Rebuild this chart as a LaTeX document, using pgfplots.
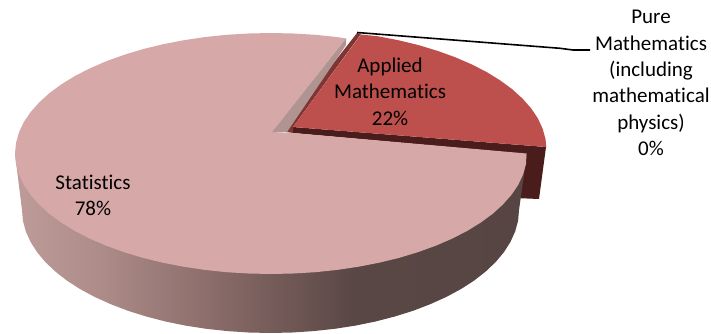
\documentclass[border=0pt]{standalone}
\usepackage{pgfplots}
\usepackage{fontspec}
\setmainfont[Ligatures=NoCommon]{Carlito}
\pgfplotsset{compat=1.18}
\definecolor{pinktop}{HTML}{D6A8A7}
\definecolor{redtop}{HTML}{BD4F4C}
\definecolor{redband}{HTML}{4A1C1C}
\definecolor{redside}{HTML}{7E3534}
\definecolor{pinkside}{HTML}{B09492}
\pgfdeclarehorizontalshading{wallshade}{100bp}{
 rgb(0bp)=(0.74,0.61,0.60);
 rgb(25bp)=(0.74,0.61,0.60);
 rgb(33bp)=(0.68,0.55,0.54);
 rgb(43bp)=(0.56,0.44,0.43);
 rgb(53bp)=(0.42,0.33,0.32);
 rgb(58bp)=(0.35,0.28,0.27);
 rgb(75bp)=(0.34,0.27,0.265);
 rgb(100bp)=(0.34,0.27,0.265)}
\begin{document}
\begin{tikzpicture}
\begin{axis}[
  scale only axis, width=711pt, height=334pt,
  xmin=0, xmax=711, ymin=0, ymax=334, y dir=reverse,
  axis lines=none, clip=false]
\path (axis cs:0,0) rectangle (axis cs:711,334);
% red slice: side band and front
\addplot[fill=redband, draw=none] coordinates {
 (293,127) (546,147) (539,199) (515,198) (515,153) (293,133)} --cycle;
% red slice: left side
\addplot[fill=redside, draw=none] coordinates {
 (286,132) (286,124) (357,33) (361,34) (293,127) (293,133)} --cycle;
% red slice: top
\addplot[fill=redtop, draw=none] coordinates {
 (293,127) (361,34.5) (378.1,36.3) (398.7,40.3) (418.5,45.1) (437.3,50.8)
 (455.1,57.2) (471.5,64.3) (486.6,72) (500.2,80.4) (512.2,89.2) (522.5,98.6)
 (531.1,108.3) (537.8,118.3) (542.6,128.6) (545.5,139) (546.3,147)} --cycle;
% statistics outer wall
\addplot[shade, shading=wallshade, draw=none] coordinates {
 (15,153.5) (22,210) (22.9,220.7) (25.8,231.4) (30.5,241.8) (37,252.1) (45.3,262)
 (55.3,271.5) (66.9,280.6) (80.1,289.1) (94.8,297) (110.8,304.2) (128,310.8)
 (146.2,316.5) (165.5,321.5) (185.5,325.6) (206.2,328.8) (227.4,331.1)
 (248.8,332.5) (270.5,333) (292.2,332.5) (313.6,331.1) (334.8,328.8)
 (355.5,325.6) (375.5,321.5) (394.8,316.5) (413,310.8) (430.2,304.2)
 (446.2,297) (460.9,289.1) (474.1,280.6) (485.7,271.5) (495.7,262) (504,252.1)
 (510.5,241.8) (515.2,231.4) (518.1,220.7) (519,210) (527,153.5)} --cycle;
% statistics top
\addplot[fill=pinktop, draw=none] coordinates {
 (272,132) (346,38.5) (337.3,37.1) (315.4,34.8) (293.3,33.5) (271,33) (248.7,33.5)
 (226.6,34.8) (204.7,37.1) (183.4,40.3) (162.8,44.3) (143,49.1) (124.2,54.8)
 (106.4,61.2) (90,68.3) (74.9,76) (61.3,84.4) (49.3,93.2) (39,102.6) (30.4,112.3)
 (23.7,122.3) (18.9,132.6) (16,143) (15,153.5) (16,164) (18.9,174.4) (23.7,184.7)
 (30.4,194.7) (39,204.4) (49.3,213.8) (61.3,222.6) (74.9,231) (90,238.7)
 (106.4,245.8) (124.2,252.2) (143,257.9) (162.8,262.7) (183.4,266.7) (204.7,269.9)
 (226.6,272.2) (248.7,273.5) (271,274) (293.3,273.5) (315.4,272.2) (337.3,269.9)
 (358.6,266.7) (379.2,262.7) (399,257.9) (417.8,252.2) (435.6,245.8) (452,238.7)
 (467.1,231) (480.7,222.6) (492.7,213.8) (503,204.4) (511.6,194.7) (518.3,184.7)
 (523.1,174.4) (526,164) (526.5,153.5) (293,133)} --cycle;
% statistics inner wall
\addplot[fill=pinkside, draw=none] coordinates {
 (272,132) (287,132) (346,45) (346,38.5)} --cycle;
% leader line
\addplot[black, line width=1.6pt] coordinates {(357,32.5) (560,48.3) (573,50) (590,50)};
\node[align=center, inner sep=0pt, font=\fontsize{21}{26.4}\selectfont] at (axis cs:93,195.5) {Statistics\\78\%};
\node[align=center, inner sep=0pt, font=\fontsize{21}{26.4}\selectfont] at (axis cs:390,91.5) {Applied\\Mathematics\\22\%};
\node[align=center, inner sep=0pt, font=\fontsize{21}{26.4}\selectfont] at (axis cs:651,83) {Pure\\Mathematics\\(including\\mathematical\\physics)\\0\%};
\end{axis}
\end{tikzpicture}
\end{document}
